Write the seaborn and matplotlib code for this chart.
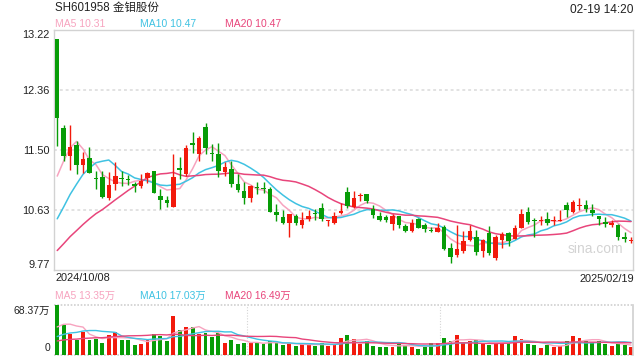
import numpy as np
import pandas as pd
import matplotlib
matplotlib.use("Agg")
import matplotlib.pyplot as plt
import seaborn as sns

# ---------------- data ----------------
title = "SH601958 金钼股份"
timestamp = "02-19 14:20"
date_first = "2024/10/08"
date_last = "2025/02/19"
price_ticks = [13.22, 12.36, 11.50, 10.63, 9.77]
price_legend = ["MA5 10.31", "MA10 10.47", "MA20 10.47"]
vol_legend = ["MA5 13.35万", "MA10 17.03万", "MA20 16.49万"]
vol_top_label = "68.37万"
vol_max = 68.37

open_ = [13.09, 11.81, 11.41, 11.56, 11.28, 11.38, 11.09, 11.11, 10.80, 11.00,
         11.09, 11.07, 11.00, 10.98, 11.09, 11.19, 10.84, 10.77, 10.67, 11.23,
         11.15, 11.59, 11.44, 11.83, 11.45, 11.44, 11.18, 11.22, 11.00, 10.90,
         10.81, 10.96, 10.95, 10.93, 10.60, 10.53, 10.45, 10.54, 10.41, 10.51,
         10.59, 10.66, 10.47, 10.45, 10.59, 10.89, 10.68, 10.83, 10.86, 10.64,
         10.55, 10.53, 10.43, 10.54, 10.40, 10.33, 10.50, 10.41, 10.34, 10.32,
         10.39, 10.09, 9.98, 10.04, 10.20, 10.24, 10.05, 10.30, 9.94, 10.20,
         10.30, 10.22, 10.38, 10.60, 10.48, 10.48, 10.50, 10.47, 10.48, 10.70,
         10.61, 10.70, 10.70, 10.63, 10.54, 10.46, 10.41, 10.42, 10.24, 10.20]
high = [13.09, 11.86, 11.85, 11.62, 11.46, 11.54, 11.20, 11.19, 11.18, 11.32,
        11.20, 11.14, 11.04, 11.15, 11.18, 11.20, 10.93, 10.84, 11.44, 11.39,
        11.56, 11.75, 11.70, 11.88, 11.58, 11.59, 11.32, 11.34, 11.15, 11.04,
        10.99, 11.03, 11.04, 10.97, 10.72, 10.63, 10.58, 10.58, 10.60, 10.63,
        10.64, 10.73, 10.49, 10.61, 10.74, 10.96, 10.91, 10.88, 10.86, 10.70,
        10.60, 10.56, 10.58, 10.55, 10.43, 10.51, 10.52, 10.45, 10.39, 10.45,
        10.42, 10.16, 10.42, 10.33, 10.42, 10.35, 10.22, 10.40, 10.28, 10.32,
        10.32, 10.42, 10.64, 10.67, 10.52, 10.54, 10.61, 10.55, 10.63, 10.75,
        10.77, 10.80, 10.77, 10.72, 10.55, 10.53, 10.49, 10.43, 10.32, 10.24]
low = [11.55, 11.33, 11.21, 11.15, 11.16, 11.17, 10.94, 10.80, 10.77, 10.92,
       10.98, 10.99, 10.89, 10.95, 11.02, 10.87, 10.65, 10.67, 10.67, 11.08,
       11.12, 11.45, 11.34, 11.44, 11.33, 11.11, 11.12, 10.97, 10.89, 10.72,
       10.75, 10.86, 10.88, 10.60, 10.47, 10.43, 10.24, 10.41, 10.37, 10.48,
       10.49, 10.47, 10.40, 10.43, 10.58, 10.66, 10.66, 10.76, 10.74, 10.52,
       10.47, 10.46, 10.34, 10.38, 10.31, 10.32, 10.37, 10.32, 10.31, 10.32,
       10.06, 9.87, 9.95, 10.01, 10.18, 9.98, 9.96, 9.99, 9.92, 10.09,
       10.11, 10.21, 10.37, 10.43, 10.24, 10.41, 10.42, 10.42, 10.48, 10.53,
       10.59, 10.63, 10.61, 10.55, 10.41, 10.39, 10.39, 10.20, 10.17, 10.16]
close = [11.96, 11.41, 11.54, 11.28, 11.36, 11.17, 11.08, 10.82, 10.99, 11.12,
         11.08, 11.06, 10.98, 11.05, 11.16, 10.88, 10.77, 10.74, 11.10, 11.21,
         11.52, 11.56, 11.67, 11.52, 11.44, 11.20, 11.25, 11.00, 10.92, 10.81,
         10.98, 10.95, 10.94, 10.61, 10.56, 10.45, 10.58, 10.45, 10.49, 10.55,
         10.57, 10.51, 10.48, 10.55, 10.62, 10.69, 10.80, 10.84, 10.76, 10.56,
         10.49, 10.49, 10.54, 10.41, 10.33, 10.45, 10.38, 10.36, 10.33, 10.38,
         10.07, 9.95, 10.07, 10.19, 10.33, 10.03, 10.20, 10.02, 10.25, 10.29,
         10.19, 10.38, 10.58, 10.46, 10.47, 10.49, 10.45, 10.48, 10.48, 10.63,
         10.75, 10.70, 10.65, 10.59, 10.50, 10.43, 10.44, 10.25, 10.21, 10.20]
volume = [68.37, 40.1, 28.7, 20.5, 31.4, 20.5, 22.3, 16.4, 27.3, 31.0,
          20.5, 20.5, 13.7, 15.0, 21.0, 28.7, 26.0, 19.1, 53.3, 33.7,
          38.3, 38.3, 28.7, 30.1, 24.2, 30.1, 16.4, 20.5, 15.0, 16.4,
          16.4, 16.9, 14.6, 19.1, 16.4, 13.2, 15.5, 12.8, 14.6, 14.6,
          12.8, 16.0, 12.8, 14.6, 23.2, 27.3, 21.9, 15.0, 19.1, 12.8,
          10.9, 10.9, 10.9, 16.4, 13.7, 10.9, 8.2, 10.9, 16.4, 16.4,
          23.2, 19.1, 27.3, 16.4, 19.1, 20.5, 16.4, 13.7, 16.4, 17.8,
          16.4, 26.0, 21.9, 15.0, 13.7, 9.6, 13.7, 10.9, 12.3, 19.1,
          26.0, 23.2, 19.1, 16.4, 19.1, 15.0, 12.3, 15.0, 13.0, 11.5]
# sessions before the first visible day (needed for the moving averages)
prior_close = [9.45, 9.50, 9.55, 9.60, 9.55, 9.60, 9.65, 9.60, 9.70, 9.74,
               9.70, 9.75, 9.80, 9.95, 10.26, 10.32, 10.60, 10.82, 11.90]
prior_volume = [12, 13, 14, 13, 12, 13, 14, 13, 13, 13,
                10, 11, 12, 13, 14, 22, 28, 33, 38.6]

# ---------------- style ----------------
RED = "#f21a0c"
GREEN = "#079c07"
MA_COLORS = ["#f7a3bf", "#3fc2e2", "#e8457b"]
BORDER = "#d2d2d2"
GRID = "#e2e2e2"
TEXT = "#222222"

sns.set_theme(style="white")
plt.rcParams["font.family"] = ["Liberation Sans", "Noto Sans CJK SC", "DejaVu Sans"]

W, H = 640, 360
fig = plt.figure(figsize=(6.4, 3.6), dpi=100)
fig.patch.set_facecolor("white")


def rect(x0, y0, x1, y1):
    return [x0 / W, 1 - y1 / H, (x1 - x0) / W, (y1 - y0) / H]


def ftext(x, y, s, **kw):
    fig.text(x / W, 1 - y / H, s, va="center", **kw)


ax = fig.add_axes(rect(54, 30, 633, 270))
axv = fig.add_axes(rect(54, 304.5, 633, 355))

n = len(close)
x = np.arange(n)
o = np.array(open_)
c = np.array(close)
hi = np.array(high)
lo = np.array(low)
up = c >= o
cols = np.where(up, RED, GREEN)

# wicks and bodies
ax.vlines(x, lo, hi, colors=cols, lw=1, zorder=3)
body = np.abs(c - o)
mid = (o + c) / 2
bh = np.maximum(body, 0.014)
ax.bar(x, bh, bottom=mid - bh / 2, width=0.7, color=cols, linewidth=0, zorder=4)

# moving averages
allc = pd.Series(prior_close + close)
allv = pd.Series(prior_volume + volume)
npre = len(prior_close)
for win, col in zip([5, 10, 20], MA_COLORS):
    ma = allc.rolling(win).mean().iloc[npre:].to_numpy()
    sns.lineplot(x=x, y=ma, ax=ax, color=col, lw=1.1, zorder=2)
    mav = allv.rolling(win).mean().iloc[npre:].to_numpy()
    sns.lineplot(x=x, y=mav, ax=axv, color=col, lw=1.0, zorder=3)

ax.set_xlim(-0.5, n - 0.7)
ax.set_ylim(price_ticks[-1], price_ticks[0])
for v in price_ticks[1:-1]:
    ax.axhline(v, color=GRID, lw=1.4, ls=(0, (1.5, 1.5)), zorder=1)
for s in ax.spines.values():
    s.set_color(BORDER)
    s.set_linewidth(1)
ax.set_xticks([])
ax.set_yticks(price_ticks)
ax.set_yticklabels([f"{v:.2f}" for v in price_ticks])
ax.tick_params(axis="y", length=0, pad=3, labelsize=7.9, labelcolor=TEXT)
labs = ax.get_yticklabels()
labs[0].set_verticalalignment("top")
labs[-1].set_verticalalignment("bottom")
ax.set_xlabel("")
ax.set_ylabel("")
ax.text(0.983, 0.0875, "sina.com", transform=ax.transAxes, ha="right", va="center",
        fontsize=10, color="#d3d3d3")

# volume
axv.bar(x, volume, width=0.6, color=cols, linewidth=0, zorder=2)
axv.set_xlim(-0.5, n - 0.7)
axv.set_ylim(0, vol_max)
for s in axv.spines.values():
    s.set_visible(False)
axv.spines["right"].set_visible(True)
axv.spines["right"].set_color(BORDER)
axv.axhline(vol_max, color="#cfcfcf", lw=1.2, ls=(0, (1, 1)), zorder=1, clip_on=False)
axv.axhline(0, color="#cfcfcf", lw=1.2, ls=(0, (1, 1)), zorder=1, clip_on=False)
for fx in (1 / 3, 2 / 3):
    axv.plot([fx, fx], [0, 1], transform=axv.transAxes, color="#d5d5d5", lw=0.8,
             ls=(0, (1, 1.5)), zorder=1)
axv.set_xticks([])
axv.set_yticks([])
axv.set_xlabel("")
axv.set_ylabel("")

# texts
ftext(55, 8, title, ha="left", fontsize=8.3, color=TEXT)
ftext(633, 10, timestamp, ha="right", fontsize=8.6, color=TEXT)
for xp, s, col in zip([55, 140, 225], price_legend, MA_COLORS):
    ftext(xp, 24, s, ha="left", fontsize=7.5, color=col)
ftext(55, 278, date_first, ha="left", fontsize=7.9, color=TEXT)
ftext(634, 279, date_last, ha="right", fontsize=7.9, color=TEXT)
for xp, s, col in zip([55, 140, 225], vol_legend, MA_COLORS):
    ftext(xp, 296, s, ha="left", fontsize=7.4, color=col)
ftext(50, 311, vol_top_label, ha="right", fontsize=7.5, color=TEXT)
ftext(50, 348, "0", ha="right", fontsize=7.5, color=TEXT)

fig.savefig("out.png", dpi=100, facecolor="white")
